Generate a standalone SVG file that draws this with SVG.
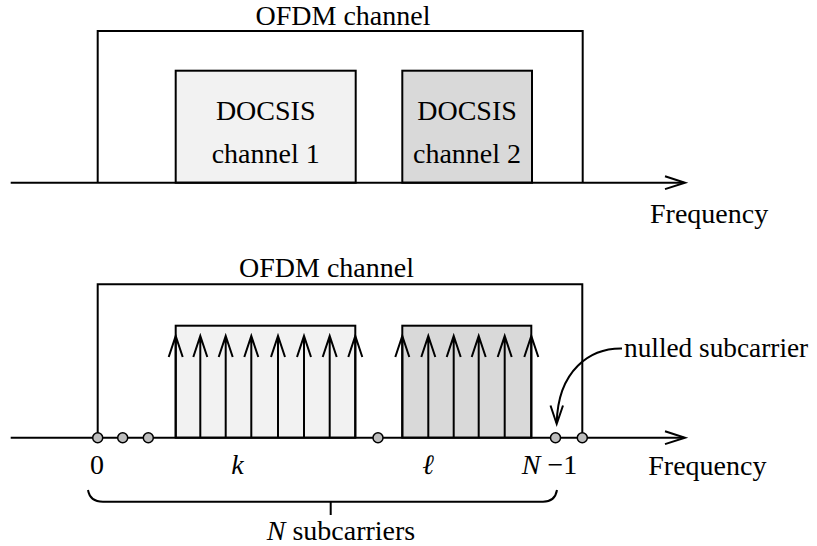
<svg xmlns="http://www.w3.org/2000/svg" width="817" height="546" viewBox="0 0 817 546">
  <style>
    .ln { fill: none; stroke: #000; stroke-width: 2; }
    .t { font-family: 'Liberation Serif', 'Times New Roman', serif; font-size: 28px; fill: #000; }
    .it { font-style: italic; }
    .light { fill: #f2f2f2; stroke: #000; stroke-width: 2; }
    .dark { fill: #d9d9d9; stroke: #000; stroke-width: 2; }
    .dot { fill: #bdbdbd; stroke: #000; stroke-width: 1.5; }
  </style>
  <defs>
    <!-- subcarrier: vertical line with an open upward arrowhead -->
    <path id="sc" d="M 0 437.7 V 336 M -7 357 L 0 336 L 7 357" fill="none" stroke="#000" stroke-width="2"/>
  </defs>

  <!-- top panel -->
  <g id="top-ofdm">
    <path class="ln" d="M 97.7 182.7 V 31 H 582.7 V 182.7"/>
    <text class="t" x="343" y="25" text-anchor="middle">OFDM channel</text>
  </g>
  <g id="top-docsis1">
    <rect class="light" x="175.7" y="70.7" width="180" height="112"/>
    <text class="t" x="265.7" y="120" text-anchor="middle">DOCSIS</text>
    <text class="t" x="265.7" y="163" text-anchor="middle">channel 1</text>
  </g>
  <g id="top-docsis2">
    <rect class="dark" x="402.3" y="70.7" width="129.7" height="112"/>
    <text class="t" x="467" y="120" text-anchor="middle">DOCSIS</text>
    <text class="t" x="467" y="163" text-anchor="middle">channel 2</text>
  </g>
  <g id="top-axis">
    <path class="ln" d="M 10.7 182.7 H 684"/>
    <path class="ln" d="M 665 176.3 L 685 182.7 L 665 189.1"/>
    <text class="t" x="650" y="223">Frequency</text>
  </g>

  <!-- bottom panel -->
  <g id="bottom-ofdm">
    <path class="ln" d="M 97.7 437.7 V 284.3 H 582.3 V 437.7"/>
    <text class="t" x="326.5" y="276.7" text-anchor="middle">OFDM channel</text>
  </g>
  <g id="bottom-docsis1">
    <rect class="light" x="175.7" y="325.7" width="179.6" height="112"/>
    <use href="#sc" x="175.7"/>
    <use href="#sc" x="200.3"/>
    <use href="#sc" x="225.7"/>
    <use href="#sc" x="251.3"/>
    <use href="#sc" x="278"/>
    <use href="#sc" x="304"/>
    <use href="#sc" x="329.7"/>
    <use href="#sc" x="355.3"/>
  </g>
  <g id="bottom-docsis2">
    <rect class="dark" x="402.3" y="325.7" width="129" height="112"/>
    <use href="#sc" x="402.3"/>
    <use href="#sc" x="428.3"/>
    <use href="#sc" x="453.7"/>
    <use href="#sc" x="478.7"/>
    <use href="#sc" x="504.7"/>
    <use href="#sc" x="531.3"/>
  </g>
  <g id="bottom-axis">
    <path class="ln" d="M 10.7 437.7 H 684"/>
    <path class="ln" d="M 665 431.3 L 685 437.7 L 665 444.1"/>
    <circle class="dot" cx="97.7" cy="437.7" r="5"/>
    <circle class="dot" cx="122.7" cy="437.7" r="5"/>
    <circle class="dot" cx="148.3" cy="437.7" r="5"/>
    <circle class="dot" cx="378" cy="437.7" r="5"/>
    <circle class="dot" cx="555.5" cy="437.7" r="5"/>
    <circle class="dot" cx="582.3" cy="437.7" r="5"/>
    <text class="t" x="97" y="473.5" text-anchor="middle">0</text>
    <text class="t it" x="237.5" y="473.5" text-anchor="middle">k</text>
    <text class="t it" x="428" y="473.5" text-anchor="middle">ℓ</text>
    <text class="t" x="521.7" y="473.5"><tspan class="it">N</tspan> −1</text>
    <text class="t" x="648.3" y="475">Frequency</text>
  </g>

  <!-- annotation -->
  <g id="nulled-label">
    <text class="t" x="624" y="357" style="font-size:27.3px">nulled subcarrier</text>
  </g>
  <g id="brace">
    <path class="ln" d="M 88 490 Q 90 501.7 103 501.7 H 543 Q 555 501.7 557 490 M 330.7 501.7 V 515"/>
    <text class="t" x="341" y="540" text-anchor="middle"><tspan class="it">N</tspan> subcarriers</text>
  </g>

  <!-- connectors -->
  <g id="connectors">
    <path class="ln" d="M 622 348.5 C 590 348 558 370 556.7 423"/>
    <path class="ln" d="M 550.5 405.5 L 556.7 424 L 563 405.5"/>
  </g>
</svg>
